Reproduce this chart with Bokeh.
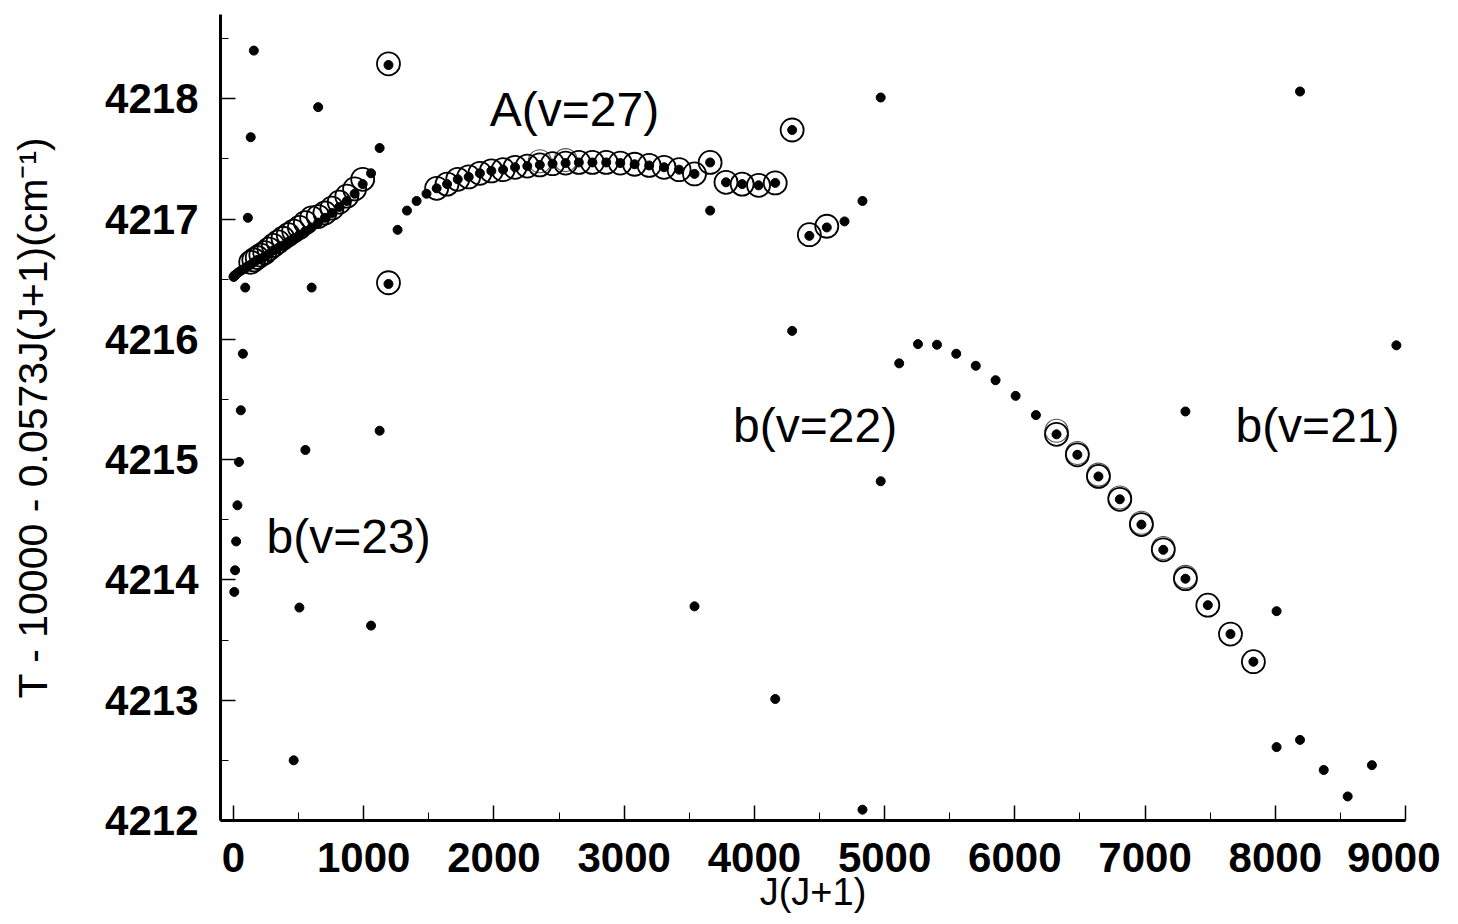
from bokeh.plotting import figure
from bokeh.models import Range1d, SingleIntervalTicker, Label
from bokeh.embed import file_html
from bokeh.resources import INLINE

# ---- data: x = J(J+1), y = T - 10000 - 0.0573 J(J+1) (cm^-1) ----
# main b(v=23)/A low-J band
low_x = [0, 2, 6, 12, 20, 30, 42, 56, 72, 90, 110, 132, 156, 182, 210, 240, 272,
         306, 342, 380, 420, 462, 506, 552, 600, 650, 702, 756, 812, 870, 930, 992, 1056]
low_y = [4216.52, 4216.52, 4216.53, 4216.53, 4216.54, 4216.55, 4216.56, 4216.57,
         4216.58, 4216.59, 4216.61, 4216.62, 4216.64, 4216.66, 4216.67, 4216.69,
         4216.71, 4216.74, 4216.76, 4216.78, 4216.81, 4216.84, 4216.87, 4216.90,
         4216.93, 4216.97, 4217.01, 4217.05, 4217.10, 4217.15, 4217.21, 4217.29, 4217.38]

# scattered perturbation levels at low J
extra_x = [6, 12, 20, 30, 42, 56, 72, 90, 110, 132, 156,
           462, 506, 552, 600, 650, 1056, 1122, 1122, 1190, 1190]
extra_y = [4213.90, 4214.08, 4214.32, 4214.62, 4214.98, 4215.41, 4215.88, 4216.43,
           4217.01, 4217.68, 4218.40, 4212.50, 4213.77, 4215.08, 4216.43, 4217.93,
           4213.62, 4215.24, 4217.59, 4218.28, 4216.46]

# A(v=27) arc
arc_x = [1260, 1332, 1406, 1482, 1560, 1640, 1722, 1806, 1892, 1980, 2070, 2162, 2256,
         2352, 2450, 2550, 2652, 2756, 2862, 2970, 3080, 3192, 3306, 3422, 3540, 3660,
         3782, 3906, 4032, 4160, 4290]
arc_y = [4216.91, 4217.07, 4217.15, 4217.21, 4217.255, 4217.29, 4217.33, 4217.35,
         4217.38, 4217.40, 4217.41, 4217.43, 4217.44, 4217.45, 4217.46, 4217.465,
         4217.47, 4217.47, 4217.47, 4217.465, 4217.455, 4217.445, 4217.43, 4217.41,
         4217.375, 4217.47, 4217.305, 4217.29, 4217.28, 4217.30, 4217.74]

# other isolated levels (middle)
mid_x = [3660, 3540, 4160, 4290, 4422, 4556, 4692, 4830, 4830, 4970, 4970]
mid_y = [4217.07, 4213.78, 4213.01, 4216.07, 4216.86, 4216.93, 4216.98, 4217.15,
         4212.09, 4218.01, 4214.82]

# b(v=22) / b(v=21) arc
b_x = [5112, 5256, 5402, 5550, 5700, 5852, 6006, 6162, 6320, 6480, 6642, 6806, 6972,
       7140, 7310, 7482, 7656, 7832]
b_y = [4215.80, 4215.96, 4215.955, 4215.88, 4215.78, 4215.66, 4215.53, 4215.37,
       4215.21, 4215.04, 4214.86, 4214.67, 4214.46, 4214.25, 4214.01, 4213.79,
       4213.55, 4213.32]

# isolated levels (right)
right_x = [7310, 8010, 8010, 8190, 8190, 8372, 8556, 8742, 8930]
right_y = [4215.40, 4213.74, 4212.61, 4218.06, 4212.67, 4212.42, 4212.20, 4212.46, 4215.95]

# open circles (assigned levels)
circ_x = [132, 156, 182, 210, 240, 272, 306, 342, 380, 420, 462, 506, 552, 600, 650,
          702, 756, 812, 870, 930, 992, 1190, 1190,
          1560, 1640, 1722, 1806, 1892, 1980, 2070, 2162, 2256, 2352, 2450, 2550, 2652,
          2756, 2862, 2970, 3080, 3192, 3306, 3422, 3540, 3660, 3782, 3906, 4032, 4160,
          4290, 4422, 4556,
          6320, 6480, 6642, 6806, 6972, 7140, 7310, 7482, 7656, 7832]
circ_y = [4216.64, 4216.66, 4216.68, 4216.70, 4216.72, 4216.75, 4216.78, 4216.81,
          4216.84, 4216.87, 4216.90, 4216.93, 4216.97, 4217.01, 4217.02, 4217.05,
          4217.09, 4217.14, 4217.19, 4217.25, 4217.33, 4218.29, 4216.47,
          4217.255, 4217.29, 4217.33, 4217.35, 4217.38, 4217.40, 4217.41, 4217.43,
          4217.44, 4217.45, 4217.46, 4217.465, 4217.47, 4217.47, 4217.47, 4217.465,
          4217.455, 4217.445, 4217.43, 4217.41, 4217.375, 4217.47, 4217.305, 4217.29,
          4217.28, 4217.30, 4217.74, 4216.87, 4216.94,
          4215.21, 4215.04, 4214.86, 4214.67, 4214.46, 4214.25, 4214.01, 4213.79,
          4213.55, 4213.32]

# secondary (slightly shifted) rings
circ2_x = [2352, 2550, 6320, 6480, 6642, 6806, 6972, 7140, 7310]
circ2_y = [4217.48, 4217.49, 4215.24, 4215.055, 4214.875, 4214.685, 4214.475, 4214.265, 4214.025]

labels_text = ["A(v=27)", "b(v=23)", "b(v=22)", "b(v=21)"]
labels_x = [1968, 254, 3836, 7694]
labels_y = [4217.91, 4214.36, 4215.28, 4215.28]

FONT = "Liberation Sans"

p = figure(width=1440, height=916, output_backend="svg", toolbar_location=None,
           x_range=Range1d(-100, 9000), y_range=Range1d(4212, 4218.7),
           min_border_left=220, min_border_right=35, min_border_top=14,
           min_border_bottom=96)
p.outline_line_color = None
p.xgrid.grid_line_color = None
p.ygrid.grid_line_color = None
p.background_fill_color = "white"

p.xaxis.ticker = SingleIntervalTicker(interval=1000, num_minor_ticks=2)
p.yaxis.ticker = SingleIntervalTicker(interval=1, num_minor_ticks=2)
for ax in (p.xaxis, p.yaxis):
    ax.axis_line_width = 3
    ax.axis_line_color = "black"
    ax.major_tick_in = 15
    ax.major_tick_out = 0
    ax.minor_tick_in = 8
    ax.minor_tick_out = 0
    ax.major_tick_line_width = 1.5
    ax.minor_tick_line_width = 1
    ax.major_tick_line_color = "black"
    ax.minor_tick_line_color = "black"
    ax.major_label_text_font = FONT
    ax.major_label_text_font_style = "bold"
    ax.major_label_text_font_size = "42px"
    ax.major_label_text_color = "black"
    ax.axis_label_text_font = FONT
    ax.axis_label_text_font_style = "normal"
    ax.axis_label_text_color = "black"

p.xaxis.major_label_standoff = 22
p.yaxis.major_label_standoff = 22
p.yaxis.axis_label = "T - 10000 - 0.0573J(J+1)(cm\u207b\u00b9)"
p.yaxis.axis_label_text_font_size = "41px"
p.yaxis.axis_label_standoff = 46
p.xaxis.axis_label = "J(J+1)"
p.xaxis.axis_label_text_font_size = "38px"
p.xaxis.axis_label_standoff = -4

# marks
p.scatter(circ2_x, circ2_y, marker="circle", size=23, fill_color=None,
          line_color="#555555", line_width=1.2)
p.scatter(circ_x, circ_y, marker="circle", size=23, fill_color=None,
          line_color="black", line_width=1.8)
for xs, ys in ((low_x, low_y), (extra_x, extra_y), (arc_x, arc_y), (mid_x, mid_y),
               (b_x, b_y), (right_x, right_y)):
    p.scatter(xs, ys, marker="circle", size=9, color="black")

for t, lx, ly in zip(labels_text, labels_x, labels_y):
    p.add_layout(Label(x=lx, y=ly, text=t, text_font=FONT, text_font_size="48px",
                       text_baseline="middle", text_align="left", text_color="black"))

open("out.html", "w").write(file_html(p, INLINE))
